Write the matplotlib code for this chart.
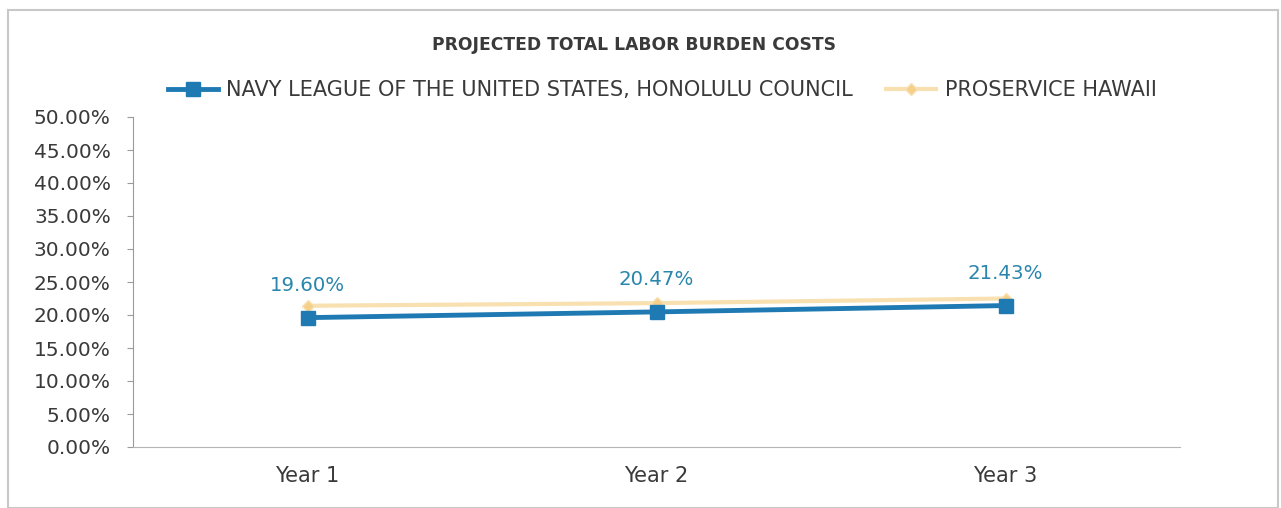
import matplotlib.pyplot as plt
from matplotlib.patches import Rectangle
from matplotlib.ticker import FuncFormatter, MultipleLocator

# datos
years = ["Year 1", "Year 2", "Year 3"]
navy_league = [19.60, 20.47, 21.43]
proservice = [21.4, 21.8, 22.5]
navy_name = "NAVY LEAGUE OF THE UNITED STATES, HONOLULU COUNCIL"
pro_name = "PROSERVICE HAWAII"

plt.rcParams['font.family'] = ['DejaVu Sans']

fig = plt.figure(figsize=(12.81, 5.08), dpi=100)
ax = fig.add_axes([133 / 1281, 1 - 447 / 508, (1180 - 133) / 1281, 330 / 508])

x = list(range(len(years)))
ax.plot(x, proservice, color="#f8e0b0", lw=3, marker="D", ms=6,
        markerfacecolor="#f5d08a", markeredgecolor="#f8e0b0", label=pro_name, zorder=2)
ax.plot(x, navy_league, color="#1f7ab3", lw=3.5, marker="s", ms=10,
        label=navy_name, zorder=3)

# etiquetas de la serie azul
for xi, v in zip(x, navy_league):
    ax.annotate(f"{v:.2f}%", (xi, v), xytext=(0, 23), textcoords="offset points",
                ha="center", va="center", fontsize=14.2, color="#2a86ad")

ax.set_xlim(-0.5, len(years) - 0.5)
ax.set_ylim(0, 50)
ax.yaxis.set_major_locator(MultipleLocator(5))
ax.yaxis.set_major_formatter(FuncFormatter(lambda v, p: f"{v:.2f}%"))
ax.set_xticks(x)
ax.set_xticklabels(years)
ax.tick_params(axis="y", length=4, color="#9a9a9a", labelsize=14.5, labelcolor="#3a3a3a", pad=12)
ax.tick_params(axis="x", length=0, labelsize=15, labelcolor="#3a3a3a", pad=14)
for s in ["top", "right"]:
    ax.spines[s].set_visible(False)
ax.spines["left"].set_color("#9a9a9a")
ax.spines["bottom"].set_color("#b5b5b5")

fig.text(0.495, 1 - 45 / 508, "PROJECTED TOTAL LABOR BURDEN COSTS", ha="center", va="center",
         fontsize=12.3, fontweight="bold", color="#3a3a3a")

h, l = ax.get_legend_handles_labels()
fig.legend(h[::-1], l[::-1], loc="center", bbox_to_anchor=(0.517, 1 - 90 / 508), ncol=2,
           frameon=False, fontsize=15, handlelength=2.4, handletextpad=0.4, columnspacing=1.6,
           labelcolor="#3a3a3a")

fig.add_artist(Rectangle((8 / 1281, 0.0), 1270 / 1281, 1 - 10 / 508, transform=fig.transFigure,
                         fill=False, edgecolor="#c8c8c8", lw=1.5))

fig.savefig("out.png", dpi=100)
